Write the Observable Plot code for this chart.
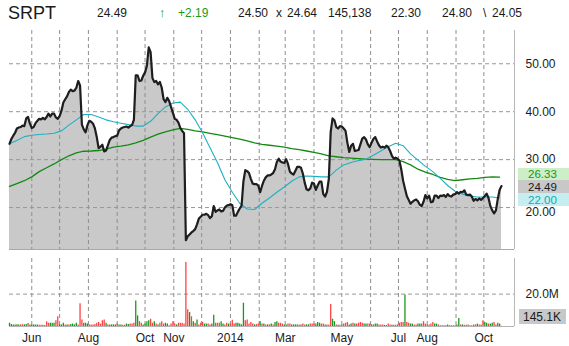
<!DOCTYPE html>
<html>
<head>
<meta charset="utf-8">
<script src="https://cdn.jsdelivr.net/npm/d3@7"></script>
<script src="https://cdn.jsdelivr.net/npm/@observablehq/plot@0.6"></script>
<style>
  html,body{margin:0;padding:0;background:#fff;overflow:hidden;}
  #chart{position:relative;width:569px;height:346px;overflow:hidden;font-family:"Liberation Sans",Arial,Helvetica,sans-serif;color:#1a1a1a;}
  #chart svg{position:absolute;left:0;}
  .hd{position:absolute;top:6px;font-size:12px;line-height:14px;white-space:pre;}
  .box{position:absolute;left:518px;width:51px;}
  .tg{position:absolute;left:528px;font-size:11.5px;line-height:12px;white-space:pre;}
</style>
</head>
<body>
<div id="chart"></div>
<script>
// ---------- header values ----------
const ticker = "SRPT";
const lastPrice = 24.49;
const netChange = 2.19;
const bidPrice = 24.50, askPrice = 24.64;
const lastVolume = 145138;
const openPrice = 22.30;
const dayHigh = 24.80, dayLow = 24.05;

// ---------- daily series (sampled every 2 calendar days) ----------
const seriesStart = "2013-05-08";
const closeStepDays = 2;
const closes = [
 33.3,34.3,35.0,35.6,36.5,36.7,36.8,37.1,37.0,38.6,
 38.9,37.5,36.6,36.8,37.6,38.1,38.5,38.4,38.7,38.4,
 38.9,39.6,39.0,39.6,39.6,38.8,38.5,39.1,40.2,41.9,
 42.6,43.2,44.1,44.6,44.3,44.4,45.0,46.4,45.5,37.3,
 36.3,35.7,37.2,38.1,37.9,37.5,36.5,34.7,32.4,32.7,
 33.1,31.7,31.9,33.0,34.1,34.6,34.7,34.9,35.0,36.1,
 36.5,36.7,36.8,36.9,36.7,37.0,37.2,38.3,47.6,47.6,
 46.4,46.5,47.5,48.2,49.6,53.4,52.4,47.0,46.2,46.4,
 45.7,46.2,45.0,42.6,42.0,42.9,42.2,41.0,39.8,38.5,
 38.3,37.7,36.6,36.0,35.5,13.2,14.0,14.4,14.8,15.1,
 15.5,16.5,17.7,18.1,18.5,18.5,18.7,18.4,17.8,18.2,
 20.3,19.1,19.4,19.6,19.2,19.3,20.0,20.4,20.5,20.7,
 20.5,18.3,18.3,19.1,19.8,20.4,25.5,27.8,27.6,27.2,
 26.0,25.0,24.9,24.9,24.6,23.2,24.5,25.6,26.3,26.7,
 26.7,26.9,27.2,28.0,29.5,30.2,29.6,29.4,29.3,30.1,
 29.1,27.5,27.1,26.9,27.7,28.5,28.5,28.3,27.1,25.2,
 23.8,23.6,24.0,25.2,25.0,23.7,24.6,25.4,25.4,22.8,
 22.3,23.3,26.0,35.8,38.6,38.2,36.8,36.5,37.0,36.9,
 36.5,36.0,33.5,31.6,32.9,33.3,31.8,31.9,32.0,33.2,
 34.4,34.7,34.2,33.2,32.6,33.5,34.3,34.7,33.8,33.0,
 32.5,32.7,32.5,32.9,32.6,31.8,30.8,30.2,30.4,30.2,
 29.8,28.0,25.6,24.0,22.4,21.6,20.8,21.2,21.5,21.7,
 21.3,20.6,20.3,21.2,22.6,21.9,22.5,21.1,21.2,22.5,
 22.5,22.0,22.5,22.4,22.6,22.2,22.8,22.4,22.3,22.7,
 22.8,23.2,22.9,23.3,23.2,23.6,22.7,22.6,22.7,22.3,
 21.4,21.8,21.5,21.9,21.6,22.0,22.4,22.9,22.0,20.3,
 19.4,18.8,19.4,21.8,23.7,24.49
];
// volume in millions, same dates as closes
const volumesM = [
 2,1.2,1,1,1.1,1,1,1.1,1,1.2,
 1.9,1,1,1,0.9,1,0.7,0.7,0.7,0.6,
 2.9,2,2,2,2,3.5,6,1,1,2,
 1,1,1,1.2,1.5,1,2,1,14,4,
 2,2,1.5,1,1,1,1.2,2,2.5,1.5,
 3.5,4,2,1,1,1,1,1,1.5,1,
 1,0.8,0.8,1.5,1.2,1.5,1.5,2,15.8,6.6,
 3,2,1,1.5,3,3.5,4.5,2,3,1.5,
 1,2,3,1.5,2,1.5,0.5,1.5,3,1.5,
 1,2,2,2,1.5,39.5,10.3,8.6,6,3,
 2,4,1,2,2.5,1.5,1.5,1.5,1,1.5,
 7,2,2,2,3,1.5,1,2,1.5,1.5,
 3.9,1.5,2,2,1.5,1,14.4,3.5,4,1.5,
 2.5,1.5,1,1.2,1.5,3,1.5,1.5,1,1,
 1,1.5,1,2.5,3,2,2,1.5,1,1,
 1.5,1.5,1,1,1,1,1,1,1.5,1,
 1,1,1.5,1.5,1.5,1.5,2.5,2,1.5,1.5,
 1,1,1,13.6,4.5,3,1,0.8,0.8,1,
 1.5,2,2.5,1,1.5,2,1.5,1.5,2,2.5,
 2,1.5,1.5,1.5,1.5,1,1,1.5,1.5,1,
 1,1,0.7,0.7,1.5,1,0.7,0.7,0.7,1,
 2,2.5,2.5,19.5,2.5,2,1.5,1.5,1,1,
 1.5,1.5,1.5,3,1.5,1,1,1.5,2.5,1.5,
 1.5,1,0.5,0.5,0.5,0.5,1,0.5,0.5,0.5,
 0.5,1,5,1,1,0.7,0.7,1,0.5,0.5,
 1,1,1.5,1,1,3.5,2.5,2,1.5,1.5,
 2,2.5,1,2,1.5,0.145138
];
// u = up-day bar (green), d = down-day bar (red)
const volumeDirs = "uuuuuudduu duuuuudddd dduuudduuu duduuuuddd uuuddddddd " +
  "dduduuuudu udduuddduu dduuuuddud uddduudddd uddddddudu " +
  "duddduuddu uddduuddud dduuuuuddd dduddududu duduuddduu " +
  "dduuuududd uuddduuudd uddduududd ddduududdd duudduduud " +
  "dduddduddd dddudduudd uudddddddu uddddduddd duududdddd " +
  "dduddduudu udduuu";

// ---------- moving averages (sampled every 8 calendar days) ----------
const maStepDays = 8;
const ma50 = [
 33.3,34.0,34.8,35.1,35.25,35.35,35.5,36.0,37.2,38.3,
 39.4,39.4,38.9,38.3,37.9,37.6,37.3,37.0,37.0,38.0,
 39.6,41.0,41.8,42.0,40.5,38.3,35.6,32.5,29.4,25.8,
 23.2,20.9,19.7,19.6,20.9,22.0,23.2,24.3,25.5,26.4,
 26.6,26.5,26.4,26.4,27.8,28.9,29.4,29.8,30.1,30.9,
 31.8,32.7,33.4,32.9,31.2,29.9,28.6,27.5,26.1,24.6,
 23.4,22.8,22.4,22.2,22.2,22.2,22.0
];
const ma200 = [
 24.4,25.0,25.6,26.4,27.5,28.3,29.1,30.0,30.8,31.4,
 31.75,31.8,31.9,32.2,32.6,32.8,33.1,33.5,34.0,34.7,
 35.3,35.8,36.2,36.5,36.3,36.0,35.8,35.5,35.2,34.9,
 34.6,34.3,33.9,33.5,33.2,33.0,32.8,32.6,32.3,32.1,
 31.8,31.5,31.2,30.8,30.6,30.4,30.3,30.2,30.1,30.05,
 30.0,30.0,30.0,29.6,28.9,28.0,27.4,26.9,26.3,25.9,
 25.6,25.8,26.0,26.1,26.3,26.4,26.33
];

// ---------- axes ----------
const gridMonths = ["2013-06-01","2013-07-01","2013-08-01","2013-09-01","2013-10-01","2013-11-01",
  "2013-12-01","2014-01-01","2014-02-01","2014-03-01","2014-04-01","2014-05-01","2014-06-01",
  "2014-07-01","2014-08-01","2014-09-01","2014-10-01"];
const monthLabels = [["2013-06-01","Jun"],["2013-08-01","Aug"],["2013-10-01","Oct"],["2013-11-01","Nov"],
  ["2014-01-01","2014"],["2014-03-01","Mar"],["2014-05-01","May"],["2014-07-01","Jul"],
  ["2014-08-01","Aug"],["2014-10-01","Oct"]];
const priceTicks = [20,30,40,50];
const volumeTicksM = [20];

// ---------- build ----------
const parse = d3.utcParse("%Y-%m-%d");
const t0 = parse(seriesStart);
const dirs = volumeDirs.replace(/\s+/g,"");
const priceData = closes.map((c,i)=>({date:d3.utcDay.offset(t0,i*closeStepDays), close:c}));
const volData = volumesM.map((v,i)=>({date:d3.utcDay.offset(t0,i*closeStepDays), vol:v, up:dirs[i]==="u"}));
const ma50Data = ma50.map((v,i)=>({date:d3.utcDay.offset(t0,i*maStepDays), v}));
const ma200Data = ma200.map((v,i)=>({date:d3.utcDay.offset(t0,i*maStepDays), v}));

const xDomain = [parse("2013-05-08"), parse("2014-11-03")];
const yDomain = [11.25, 56.94];
const W = 569;
const gridStyle = {stroke:"#8e8e8e", strokeDasharray:"4,3", strokeWidth:1};
const hGridStyle = {stroke:"#9c9696", strokeDasharray:"4,3", strokeWidth:1};
const font = "Liberation Sans, Arial, sans-serif";

const priceChart = Plot.plot({
  width:W, height:252, marginTop:30, marginBottom:3, marginLeft:9, marginRight:55,
  x:{type:"utc", domain:xDomain, axis:null},
  y:{domain:yDomain, axis:null},
  style:{background:"transparent", fontFamily:font, overflow:"visible"},
  marks:[
    Plot.areaY(priceData,{x:"date", y1:yDomain[0], y2:"close", fill:"#c9c9c9"}),
    Plot.ruleX(gridMonths.map(parse), gridStyle),
    Plot.ruleY(priceTicks, hGridStyle),
    Plot.ruleY([yDomain[0]], {stroke:"#a8a8a8"}),
    Plot.ruleX([xDomain[1]], {stroke:"#b8b8b8"}),
    Plot.line(ma200Data,{x:"date", y:"v", stroke:"#128a12", strokeWidth:1.3}),
    Plot.line(ma50Data,{x:"date", y:"v", stroke:"#1fb0c0", strokeWidth:1.1}),
    Plot.line(priceData,{x:"date", y:"close", stroke:"#1e1e1e", strokeWidth:2.2, strokeLinejoin:"round"}),
    Plot.text(priceTicks,{x:()=>xDomain[1], y:d=>d, text:d=>d.toFixed(2), dx:11, textAnchor:"start", fontSize:12, fill:"#1a1a1a", filter:d=>d!==20}),
    Plot.text(priceTicks,{x:()=>xDomain[1], y:d=>d, text:d=>d.toFixed(2), dx:11, dy:4.5, textAnchor:"start", fontSize:12, fill:"#1a1a1a", filter:d=>d===20})
  ]
});
priceChart.style.top = "0px";

const volChart = Plot.plot({
  width:W, height:91, marginTop:3, marginBottom:20, marginLeft:9, marginRight:55,
  x:{type:"utc", domain:xDomain, axis:null},
  y:{domain:[0,42], axis:null},
  color:{type:"identity"},
  style:{background:"transparent", fontFamily:font, overflow:"visible"},
  marks:[
    Plot.ruleX(gridMonths.map(parse), gridStyle),
    Plot.ruleY(volumeTicksM, hGridStyle),
    Plot.ruleX(volData,{x:"date", y1:0, y2:"vol", stroke:d=>d.up?"#179a17":"#ff4242", strokeWidth:1.3}),
    Plot.ruleY([0],{stroke:"#b4b4b4"}),
    Plot.ruleX([xDomain[1]],{stroke:"#b8b8b8"}),
    Plot.text(volumeTicksM,{x:()=>xDomain[1], y:d=>d, text:d=>d.toFixed(1)+"M", dx:11, textAnchor:"start", fontSize:12, fill:"#1a1a1a"}),
    Plot.text(monthLabels,{x:d=>parse(d[0]), y:()=>0, text:d=>d[1], dy:12, fontSize:12, fill:"#1a1a1a"})
  ]
});
volChart.style.top = "255px";

const root = document.getElementById("chart");
root.appendChild(priceChart);
root.appendChild(volChart);

// ---------- header ----------
function add(cls, text, css){
  const el = document.createElement("div");
  el.className = cls; el.textContent = text;
  Object.assign(el.style, css);
  root.appendChild(el);
  return el;
}
add("hd", ticker, {left:"8px", top:"4px", fontSize:"18px", lineHeight:"18px"});
add("hd", lastPrice.toFixed(2), {left:"97px"});
add("hd", "\u2191", {left:"159px", color:"#1a9a1a", fontWeight:"bold", fontSize:"13px"});
add("hd", "+" + netChange.toFixed(2), {left:"178px", color:"#1a9a1a"});
add("hd", bidPrice.toFixed(2), {left:"238px"});
add("hd", "x", {left:"276px"});
add("hd", askPrice.toFixed(2), {left:"287px"});
add("hd", d3.format(",")(lastVolume), {left:"328px"});
add("hd", openPrice.toFixed(2), {left:"391px"});
add("hd", dayHigh.toFixed(2), {left:"442px"});
add("hd", "\\", {left:"483px"});
add("hd", dayLow.toFixed(2), {left:"492px"});

// ---------- last-value tags ----------
const ys = priceChart.scale("y");
const yLast = ys.apply(lastPrice);
const grayTop = yLast - 5.5, grayH = 13;
add("box", "", {top:(grayTop-12)+"px", height:"12px", background:"#cdeec6"});
add("box", "", {top:(grayTop+grayH)+"px", height:"13px", background:"#c6eef0"});
add("box", "", {top:grayTop+"px", height:grayH+"px", background:"#c8c8c8"});
add("tg", ma200[ma200.length-1].toFixed(2), {top:(grayTop-12.5)+"px", color:"#1a941a"});
add("tg", lastPrice.toFixed(2), {top:(grayTop+0.5)+"px", color:"#1a1a1a"});
add("tg", ma50[ma50.length-1].toFixed(2), {top:(grayTop+grayH+0.5)+"px", color:"#14a8b8"});

const yv = volChart.scale("y");
const vBottom = 255 + yv.apply(0) - 2;
add("box", "", {top:(vBottom-15)+"px", height:"15px", left:"519px", width:"47px", background:"#c8c8c8"});
add("tg", d3.format(".1f")(lastVolume/1000)+"K", {top:(vBottom-7.5-6)+"px", left:"523px", fontSize:"12px"});
</script>
</body>
</html>
